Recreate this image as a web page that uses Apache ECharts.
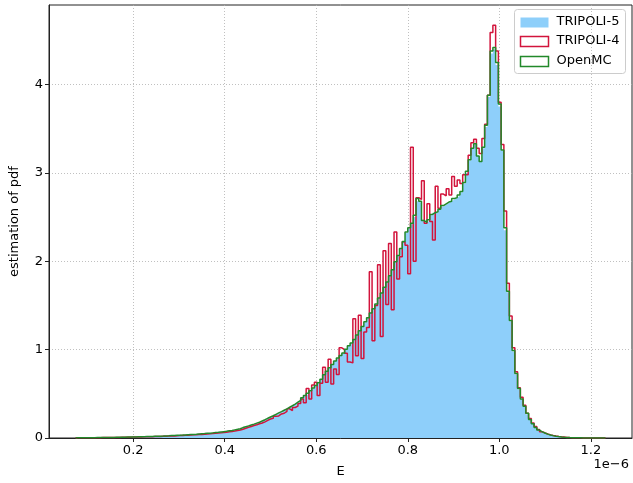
<!DOCTYPE html>
<html>
<head>
<meta charset="utf-8">
<script src="https://cdn.jsdelivr.net/npm/echarts@6/dist/echarts.min.js"></script>
<style>
  html, body { margin: 0; padding: 0; background: #fff; }
  #chart { width: 633px; height: 483px; }
</style>
</head>
<body>
<div id="chart"></div>
<script>
// histogram bins (E in units of 1e-6)
const binStart = 0.074;
const binWidth = 0.006;
const xTicks = [0.2, 0.4, 0.6, 0.8, 1.0, 1.2];
const yTicks = [0, 1, 2, 3, 4];

// TRIPOLI-5 (filled)
const tripoli5 = [
  0.002,0.002,0.003,0.003,0.003,0.004,0.004,0.004,0.005,0.005,
  0.005,0.006,0.006,0.007,0.007,0.008,0.008,0.009,0.009,0.010,
  0.011,0.012,0.012,0.013,0.014,0.015,0.016,0.017,0.018,0.019,
  0.020,0.021,0.022,0.024,0.025,0.027,0.028,0.030,0.031,0.033,
  0.035,0.037,0.039,0.041,0.043,0.045,0.047,0.050,0.052,0.055,
  0.058,0.061,0.064,0.068,0.072,0.077,0.082,0.088,0.094,0.100,
  0.115,0.125,0.135,0.145,0.155,0.165,0.175,0.190,0.205,0.220,
  0.235,0.250,0.265,0.280,0.295,0.310,0.325,0.345,0.360,0.380,
  0.400,0.420,0.450,0.480,0.500,0.530,0.560,0.590,0.620,0.660,
  0.710,0.750,0.790,0.830,0.870,0.900,0.930,0.960,1.000,1.040,
  1.07,1.11,1.16,1.21,1.26,1.31,1.36,1.41,1.46,1.51,
  1.58,1.64,1.70,1.76,1.83,1.90,1.99,2.06,2.14,2.22,
  2.32,2.37,2.42,2.50,2.68,2.66,2.47,2.44,2.46,2.52,
  2.55,2.55,2.58,2.62,2.64,2.66,2.68,2.70,2.72,2.74,
  2.78,2.88,3.00,3.14,3.27,3.32,3.19,3.13,3.28,3.52,
  3.86,4.35,4.40,4.22,3.75,3.25,2.35,1.65,1.32,0.98,
  0.72,0.55,0.44,0.36,0.27,0.21,0.16,0.12,0.09,0.07,
  0.055,0.043,0.034,0.027,0.021,0.016,0.012,0.009,0.007,0.005,
  0.004,0.003,0.002,0.002,0.001,0.001,0.001,0.001,0.001,0.0005,
  0.0003,0.0002,0.0001
];

// TRIPOLI-4 (red step)
const tripoli4 = [
  0.002,0.002,0.003,0.003,0.003,0.003,0.004,0.004,0.004,0.005,
  0.005,0.005,0.006,0.006,0.007,0.007,0.008,0.008,0.009,0.009,
  0.010,0.011,0.011,0.012,0.013,0.014,0.015,0.015,0.016,0.017,
  0.018,0.019,0.020,0.022,0.023,0.024,0.026,0.027,0.029,0.030,
  0.032,0.034,0.036,0.038,0.040,0.041,0.043,0.046,0.048,0.050,
  0.053,0.056,0.058,0.062,0.066,0.070,0.074,0.080,0.085,0.091,
  0.100,0.110,0.122,0.130,0.142,0.150,0.162,0.170,0.182,0.200,
  0.215,0.222,0.245,0.250,0.272,0.280,0.302,0.330,0.310,0.345,
  0.360,0.390,0.440,0.400,0.560,0.440,0.600,0.630,0.480,0.620,
  0.800,0.630,0.890,0.610,0.780,0.720,1.020,1.000,0.960,0.860,
  0.850,1.350,0.930,1.390,0.900,1.200,1.250,1.880,1.100,1.500,
  1.960,1.150,2.120,1.510,2.200,1.450,2.330,1.800,2.050,2.220,
  2.180,1.860,3.290,2.000,2.720,2.700,2.910,2.430,2.650,2.450,
  2.240,2.850,2.600,2.760,2.740,2.820,2.750,2.960,2.850,2.920,
  2.880,2.980,2.980,3.200,3.340,3.380,3.280,3.220,3.390,3.550,
  3.880,4.590,4.670,4.380,3.800,3.320,2.570,1.750,1.380,1.020,
  0.750,0.570,0.460,0.370,0.280,0.220,0.170,0.130,0.095,0.072,
  0.057,0.045,0.035,0.028,0.022,0.017,0.013,0.010,0.007,0.005,
  0.004,0.003,0.002,0.002,0.001,0.001,0.001,0.001,0.001,0.0005,
  0.0003,0.0002,0.0001
];

// OpenMC (green step)
const openmc = [
  0.002,0.003,0.003,0.003,0.004,0.004,0.004,0.005,0.005,0.005,
  0.006,0.006,0.007,0.007,0.008,0.008,0.009,0.009,0.010,0.011,
  0.012,0.012,0.013,0.014,0.015,0.016,0.017,0.018,0.019,0.020,
  0.021,0.022,0.024,0.025,0.027,0.028,0.030,0.032,0.033,0.035,
  0.037,0.039,0.041,0.043,0.046,0.048,0.050,0.053,0.055,0.058,
  0.061,0.064,0.068,0.072,0.076,0.081,0.086,0.092,0.098,0.105,
  0.118,0.128,0.137,0.148,0.157,0.168,0.178,0.193,0.207,0.223,
  0.238,0.252,0.268,0.284,0.298,0.314,0.330,0.348,0.365,0.384,
  0.405,0.425,0.455,0.482,0.505,0.535,0.565,0.595,0.625,0.665,
  0.715,0.755,0.795,0.832,0.872,0.905,0.935,0.962,1.005,1.045,
  1.075,1.115,1.165,1.215,1.262,1.315,1.362,1.415,1.462,1.515,
  1.585,1.642,1.705,1.765,1.835,1.905,1.995,2.065,2.145,2.225,
  2.33,2.38,2.43,2.52,2.71,2.68,2.46,2.44,2.47,2.53,
  2.55,2.56,2.59,2.63,2.65,2.67,2.68,2.71,2.72,2.75,
  2.79,2.89,3.02,3.15,3.28,3.33,3.19,3.13,3.29,3.54,
  3.88,4.38,4.42,4.25,3.78,3.26,2.38,1.66,1.33,0.99,
  0.73,0.56,0.44,0.36,0.28,0.21,0.16,0.12,0.09,0.07,
  0.056,0.044,0.034,0.027,0.021,0.016,0.012,0.009,0.007,0.005,
  0.004,0.003,0.002,0.002,0.001,0.001,0.001,0.001,0.001,0.0005,
  0.0003,0.0002,0.0001
];

const colBlue = '#8ecffa';
const colRed = '#d2143c';
const colGreen = '#22892a';
const fontFam = 'DejaVu Sans';

// build step outline: (e0,0) (e0,h0) (e1,h1) ... (en,0)
function stepData(h) {
  const pts = [[binStart, 0]];
  h.forEach((v, i) => pts.push([binStart + i * binWidth, v]));
  pts.push([binStart + h.length * binWidth, 0]);
  return pts;
}

const chart = echarts.init(document.getElementById('chart'));

const gridLine = { show: true, lineStyle: { color: '#b0b0b0', type: [1, 2], width: 0.8 } };

const option = {
  animation: false,
  grid: { left: 44, right: 1, top: 5, bottom: 40, show: true, borderColor: '#222', borderWidth: 1 },
  xAxis: {
    type: 'value',
    min: 0.016,
    max: 1.29,
    name: 'E',
    nameLocation: 'middle',
    nameGap: 27,
    nameTextStyle: { color: '#000', fontSize: 13, fontFamily: fontFam },
    axisLine: { lineStyle: { color: '#222' } },
    axisTick: { length: 4, lineStyle: { color: '#222' }, customValues: xTicks },
    axisLabel: { color: '#000', fontSize: 13, fontFamily: fontFam, margin: 6, customValues: xTicks,
      formatter: v => v.toFixed(1) },
    splitLine: gridLine
  },
  yAxis: {
    type: 'value',
    min: 0,
    max: 4.9,
    interval: 1,
    name: 'estimation of pdf',
    nameLocation: 'middle',
    nameGap: 28,
    nameTextStyle: { color: '#000', fontSize: 13, fontFamily: fontFam },
    axisLine: { show: true, lineStyle: { color: '#222' } },
    axisTick: { show: true, length: 4, lineStyle: { color: '#222' }, customValues: yTicks },
    axisLabel: { color: '#000', fontSize: 13, fontFamily: fontFam, margin: 6, customValues: yTicks },
    splitLine: gridLine
  },
  graphic: [
    { type: 'text', right: 4, top: 458, style: { text: '1e\u22126', fill: '#000', font: '13px "DejaVu Sans"' } },
    // legend box
    { type: 'group', right: 7, top: 9, children: [
      { type: 'rect', shape: { x: 0, y: 0, width: 111, height: 64, r: 3 },
        style: { fill: 'rgba(255,255,255,0.8)', stroke: '#cccccc', lineWidth: 1 } },
      { type: 'rect', shape: { x: 6, y: 8, width: 28, height: 10 }, style: { fill: colBlue } },
      { type: 'rect', shape: { x: 6, y: 27, width: 28, height: 10 }, style: { fill: 'none', stroke: colRed, lineWidth: 1.5 } },
      { type: 'rect', shape: { x: 6, y: 47, width: 28, height: 10 }, style: { fill: 'none', stroke: colGreen, lineWidth: 1.5 } },
      { type: 'text', x: 42, y: 6, style: { text: 'TRIPOLI-5', fill: '#000', font: '13px "DejaVu Sans"' } },
      { type: 'text', x: 42, y: 25, style: { text: 'TRIPOLI-4', fill: '#000', font: '13px "DejaVu Sans"' } },
      { type: 'text', x: 42, y: 45, style: { text: 'OpenMC', fill: '#000', font: '13px "DejaVu Sans"' } }
    ] }
  ],
  series: [
    {
      name: 'TRIPOLI-5', type: 'line', step: 'end', showSymbol: false,
      data: stepData(tripoli5),
      lineStyle: { width: 0 },
      areaStyle: { color: colBlue, opacity: 1 }
    },
    {
      name: 'TRIPOLI-4', type: 'line', step: 'end', showSymbol: false,
      data: stepData(tripoli4),
      lineStyle: { color: colRed, width: 1.5 }
    },
    {
      name: 'OpenMC', type: 'line', step: 'end', showSymbol: false,
      data: stepData(openmc),
      lineStyle: { color: colGreen, width: 1.5 }
    }
  ]
};

chart.setOption(option);
</script>
</body>
</html>
